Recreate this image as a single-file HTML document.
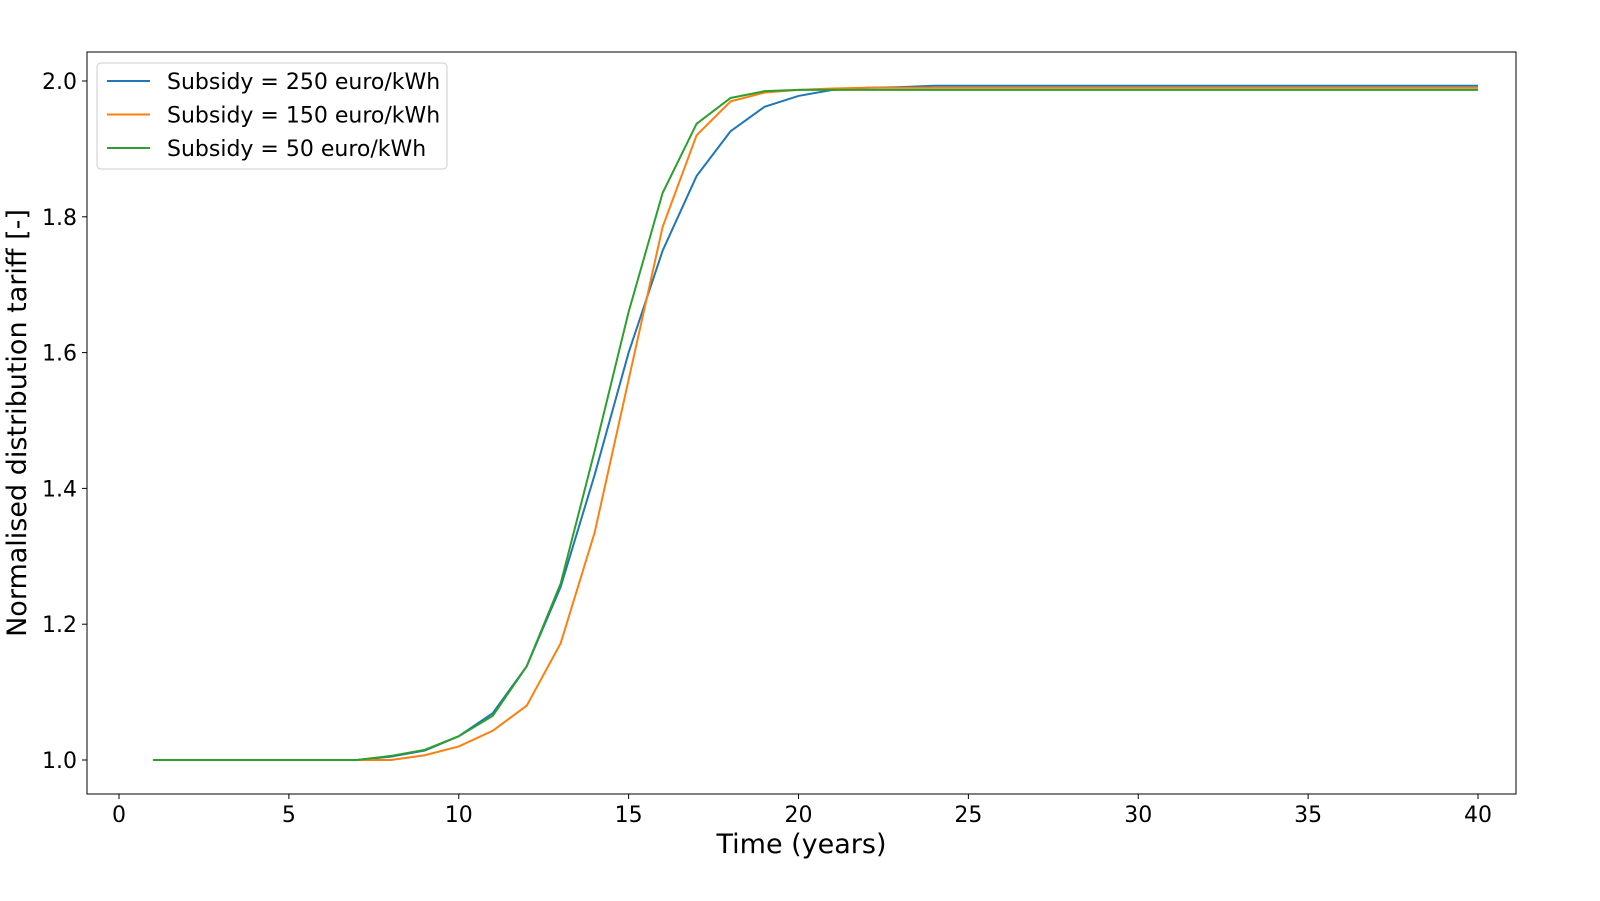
<!DOCTYPE html>
<html><head><meta charset="utf-8">
<style>
body{margin:0;background:#fff;font-family:"Liberation Sans","DejaVu Sans",sans-serif;}
svg{display:block}
text{font-family:"DejaVu Sans","Liberation Sans",sans-serif;fill:#000}
</style></head>
<body>
<svg id="chart" width="1600" height="901" viewBox="0 0 1600 901" xmlns="http://www.w3.org/2000/svg"></svg>
<script>
const years = Array.from({length:40},(_,i)=>i+1);
const seriesNames = ["Subsidy = 250 euro/kWh","Subsidy = 150 euro/kWh","Subsidy = 50 euro/kWh"];
const seriesColors = ["#1f77b4","#ff7f0e","#2ca02c"];
const blueValues = [1,1,1,1,1,1,1,1.005,1.014,1.035,1.069,1.138,1.255,1.42,1.6,1.75,1.86,1.926,1.962,1.978,1.987,1.99,1.991,1.993,1.993,1.993,1.993,1.993,1.993,1.993,1.993,1.993,1.993,1.993,1.993,1.993,1.993,1.993,1.993,1.993];
const orangeValues = [1,1,1,1,1,1,1,1,1.007,1.02,1.043,1.08,1.172,1.335,1.56,1.785,1.92,1.97,1.983,1.987,1.989,1.99,1.99,1.99,1.99,1.99,1.99,1.99,1.99,1.99,1.99,1.99,1.99,1.99,1.99,1.99,1.99,1.99,1.99,1.99];
const greenValues = [1,1,1,1,1,1,1,1.006,1.015,1.035,1.065,1.138,1.26,1.455,1.66,1.835,1.937,1.975,1.985,1.987,1.987,1.987,1.987,1.987,1.987,1.987,1.987,1.987,1.987,1.987,1.987,1.987,1.987,1.987,1.987,1.987,1.987,1.987,1.987,1.987];
const xTicks = [0,5,10,15,20,25,30,35,40];
const yTicks = [1.0,1.2,1.4,1.6,1.8,2.0];

const NS="http://www.w3.org/2000/svg";
const svg=document.getElementById('chart');
const L=87,R=1516,T=52,B=794;
const xs=v=>119+(v/40)*(1478-119);
const ys=v=>760-(v-1)*679;
function mk(tag,attrs,parent){const e=document.createElementNS(NS,tag);for(const k in attrs)e.setAttribute(k,attrs[k]);(parent||svg).appendChild(e);return e;}

const frame=mk('rect',{x:L,y:T,width:R-L,height:B-T,fill:'none',stroke:'#000','stroke-width':1});



xTicks.forEach(t=>{
  const x=xs(t);
  const l=mk('line',{x1:x,x2:x,y1:B,y2:B+5,stroke:'#000'});
  
  
  const tx=mk('text',{x:x,y:B+28,'text-anchor':'middle','font-size':22});
  tx.textContent=t;
  
  
});
yTicks.forEach(t=>{
  const y=ys(t);
  const l=mk('line',{x1:L-5,x2:L,y1:y,y2:y,stroke:'#000'});
  
  
  const tx=mk('text',{x:L-10,y:y+8,'text-anchor':'end','font-size':22});
  tx.textContent=t.toFixed(1);
  
  
});
const xt=mk('text',{x:(L+R)/2,y:853,'text-anchor':'middle','font-size':27});
xt.textContent='Time (years)';


const yt=mk('text',{x:0,y:0,'text-anchor':'middle','font-size':27,transform:`translate(26,${(T+B)/2}) rotate(-90)`});
yt.textContent='Normalised distribution tariff [-]';



const allSeries=[blueValues,orangeValues,greenValues];
const lineNames=['line-subsidy-250','line-subsidy-150','line-subsidy-50'];
allSeries.forEach((vals,i)=>{
  const d=vals.map((v,j)=>(j?'L':'M')+xs(years[j]).toFixed(2)+','+ys(v).toFixed(2)).join(' ');
  const p=mk('path',{d:d,fill:'none',stroke:seriesColors[i],'stroke-width':2});
  
  
});

const lg=mk('g',{});


mk('rect',{x:97,y:63,width:350,height:106,rx:4,fill:'#fff','fill-opacity':0.8,stroke:'#ccc'},lg);
seriesNames.forEach((n,i)=>{
  const y=81+i*33.5;
  const ln=mk('line',{x1:107,x2:150,y1:y,y2:y,stroke:seriesColors[i],'stroke-width':2},lg);
  
  
  const tx=mk('text',{x:167,y:y+8,'font-size':22},lg);
  tx.textContent=n;
  
  
});
</script>
</body></html>
